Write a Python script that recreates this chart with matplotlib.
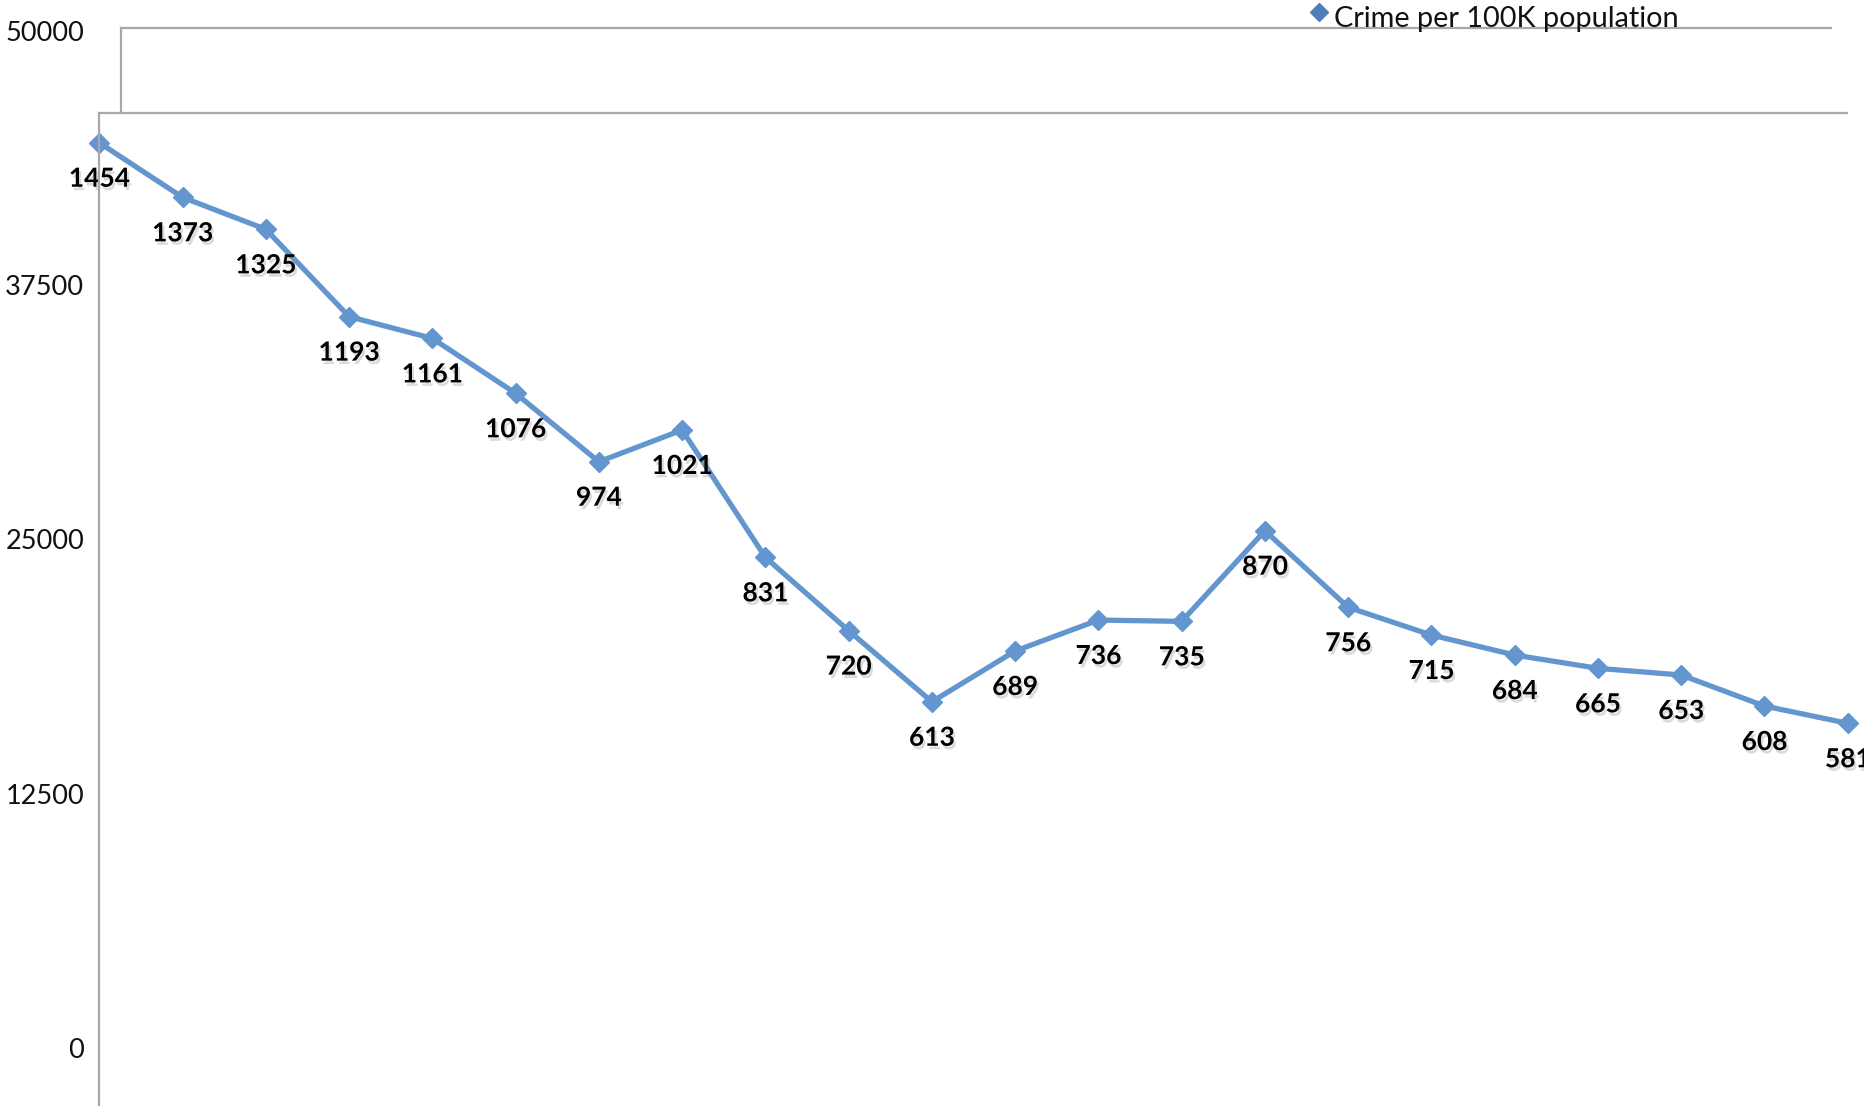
import matplotlib
matplotlib.use("Agg")
import matplotlib.pyplot as plt
from matplotlib.lines import Line2D
import matplotlib.patheffects as pe

# ---- data ----
series_name = "Crime per 100K population"
crime_rate_labels = [1454, 1373, 1325, 1193, 1161, 1076, 974, 1021, 831, 720, 613,
                     689, 736, 735, 870, 756, 715, 684, 665, 653, 608, 581]
plotted_values = [44492, 41809, 40236, 35945, 34875, 32174, 28812, 30373, 24111, 20510, 17013,
                  19510, 21030, 20966, 25421, 21656, 20293, 19311, 18657, 18329, 16803, 15955]
y_ticks = [0, 12500, 25000, 37500, 50000]
y_tick_labels = ["0", "12500", "25000", "37500", "50000"]

W, H = 1865, 1106
DPI = 100
plt.rcParams['font.family'] = ['Lato', 'DejaVu Sans']

fig = plt.figure(figsize=(W / DPI, H / DPI), dpi=DPI)
fig.patch.set_facecolor('white')

left_px = 99.3
ax = fig.add_axes([left_px / W, 0, 1 - left_px / W, 1])
ax.set_facecolor('none')
x = list(range(len(plotted_values)))
ax.set_xlim(0, (W - left_px) / 83.26)
ax.set_ylim(-2856, 51509)
for s in ax.spines.values():
    s.set_visible(False)
ax.set_xticks([])
ax.set_yticks(y_ticks)
ax.set_yticklabels(y_tick_labels)
ax.tick_params(axis='y', length=0, pad=11, labelsize=19.5, labelcolor='#111111')

line_color = '#6396CE'
ax.plot(x, plotted_values, color=line_color, lw=3.8, marker='D', ms=10.5,
        markerfacecolor=line_color, markeredgecolor=line_color, clip_on=False, zorder=3)

shadow = [pe.withSimplePatchShadow(offset=(1.5, -2.5), shadow_rgbFace='#999999', alpha=0.35)]
for xi, yi, lab in zip(x, plotted_values, crime_rate_labels):
    ax.annotate(str(lab), (xi, yi), xytext=(0, -36), textcoords='offset pixels',
                ha='center', va='center', fontsize=19, fontweight='bold',
                color='black', path_effects=shadow, annotation_clip=False, zorder=4)

# frame lines (pixel coordinates converted to figure fractions)
gray = '#A8A8A8'
def fline(x0, y0, x1, y1):
    fig.add_artist(Line2D([x0 / W, x1 / W], [1 - y0 / H, 1 - y1 / H],
                          transform=fig.transFigure, color=gray, lw=1.6))

fline(99.3, 112.6, 99.3, H)        # main left axis
fline(99.3, 112.6, 1846.7, 112.6)  # main top line
fline(120.5, 27.7, 120.5, 112.6)   # upper box left
fline(120.5, 27.7, 1831, 27.7)     # upper box top

# legend
fig.add_artist(Line2D([1318.7 / W], [1 - 11.7 / H], transform=fig.transFigure,
                      marker='D', ms=9.5, color='#4F7FB8', lw=0))
fig.text(1334 / W, 1 - 27 / H, series_name, ha='left', va='baseline',
         fontsize=20.8, color='#111111')

fig.savefig('out.png', dpi=DPI)
